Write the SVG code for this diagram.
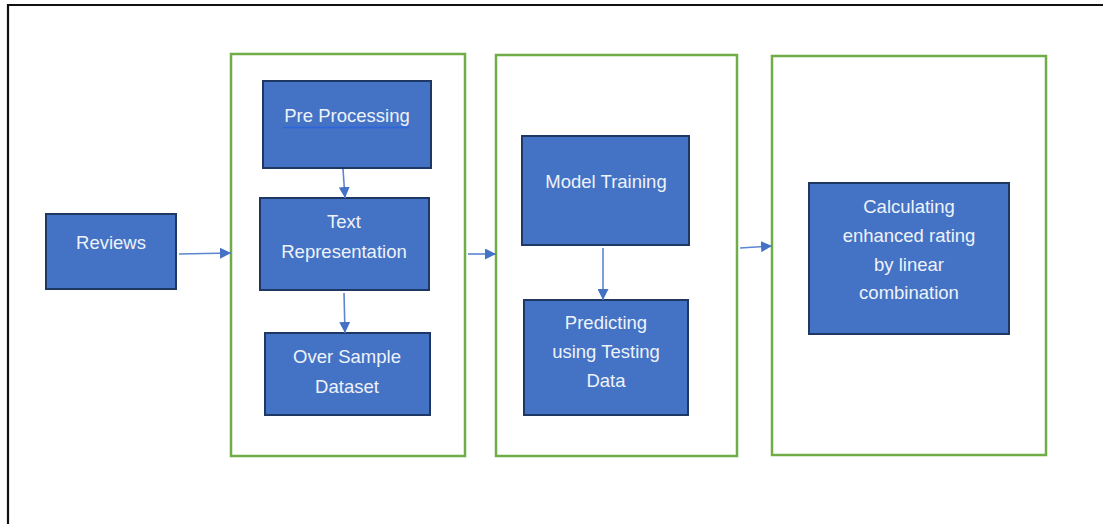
<svg xmlns="http://www.w3.org/2000/svg" width="1103" height="524" viewBox="0 0 1103 524">
<defs>
<style>
.grp{fill:none;stroke:#70AD47;stroke-width:2.5}
.box{fill:#4472C4;stroke:#1F3763;stroke-width:2}
.lbl{font-family:"Liberation Sans","Open Sans",sans-serif;font-size:18.5px;fill:#EEF2FA;text-anchor:middle}
.con{fill:none;stroke:#5B86D2;stroke-width:1.6;marker-end:url(#ah)}
</style>
<marker id="ah" viewBox="0 0 10 10" refX="10" refY="5" markerWidth="11" markerHeight="11" markerUnits="userSpaceOnUse" orient="auto">
<path d="M0,0 L10,5 L0,10 z" fill="#4472C4"/>
</marker>
</defs>
<rect width="1103" height="524" fill="#fff"/>
<path d="M8,524 L8,5 L1103,5" fill="none" stroke="#111" stroke-width="2.2"/>
<g id="group1"><rect class="grp" x="231" y="54" width="234" height="402"/></g>
<g id="group2"><rect class="grp" x="496" y="55" width="241" height="401"/></g>
<g id="group3"><rect class="grp" x="772" y="56" width="274" height="399"/></g>
<g id="reviews"><rect class="box" x="46" y="214" width="130" height="75"/><text class="lbl" x="111" y="249">Reviews</text></g>
<g id="preprocessing"><rect class="box" x="263" y="81" width="168" height="87"/><text class="lbl" x="347" y="122">Pre Processing</text><line x1="283" y1="127.5" x2="410" y2="127.5" stroke="#2C66DC" stroke-width="1.5"/></g>
<g id="textrep"><rect class="box" x="260" y="198" width="169" height="92"/><text class="lbl" x="344" y="228">Text</text><text class="lbl" x="344" y="258">Representation</text></g>
<g id="oversample"><rect class="box" x="265" y="333" width="165" height="82"/><text class="lbl" x="347" y="363">Over Sample</text><text class="lbl" x="347" y="393">Dataset</text></g>
<g id="modeltraining"><rect class="box" x="522" y="136" width="167" height="109"/><text class="lbl" x="606" y="188">Model Training</text></g>
<g id="predicting"><rect class="box" x="524" y="300" width="164" height="115"/><text class="lbl" x="606" y="329">Predicting</text><text class="lbl" x="606" y="358">using Testing</text><text class="lbl" x="606" y="387">Data</text></g>
<g id="calculating"><rect class="box" x="809" y="183" width="200" height="151"/><text class="lbl" x="909" y="213">Calculating</text><text class="lbl" x="909" y="242">enhanced rating</text><text class="lbl" x="909" y="271">by linear</text><text class="lbl" x="909" y="299">combination</text></g>
<g id="connectors">
<line class="con" x1="179" y1="254" x2="231" y2="253"/>
<line class="con" x1="343" y1="169" x2="345" y2="198"/>
<line class="con" x1="344" y1="293" x2="345" y2="333"/>
<line class="con" x1="468" y1="254" x2="496" y2="254"/>
<line class="con" x1="603" y1="248" x2="603" y2="300"/>
<line class="con" x1="740" y1="248" x2="772" y2="246"/>
</g>
</svg>
